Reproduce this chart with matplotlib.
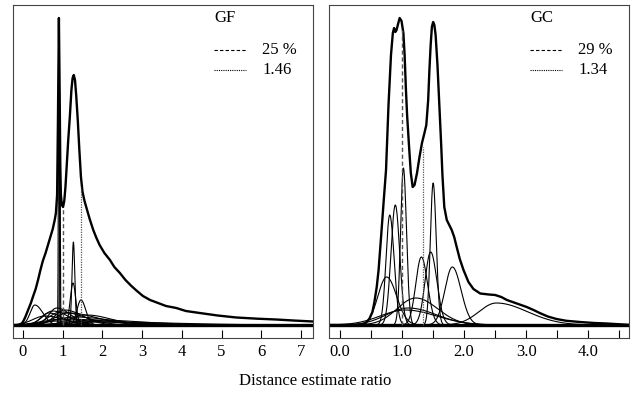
import numpy as np
import matplotlib
matplotlib.use("Agg")
import matplotlib.pyplot as plt

plt.rcParams['font.family'] = ['Liberation Serif', 'DejaVu Serif']
plt.rcParams['font.size'] = 12

# envelope (total) density (x, height)
gf_x = [-0.2, -0.12, -0.05, 0.0, 0.06, 0.13, 0.2, 0.25, 0.32, 0.38, 0.44, 0.5, 0.57,
        0.63, 0.69, 0.75, 0.8, 0.83, 0.86, 0.88, 0.905, 0.925, 0.94, 0.955, 0.98,
        1.01, 1.04, 1.07, 1.1, 1.14, 1.18, 1.22, 1.25, 1.28, 1.31, 1.34, 1.38, 1.42,
        1.46, 1.5, 1.55, 1.6, 1.68, 1.77, 1.85, 1.93, 2.05, 2.19, 2.3, 2.44, 2.58,
        2.73, 2.87, 3.02, 3.2, 3.4, 3.6, 3.86, 4.1, 4.45, 4.9, 5.37, 5.9, 6.37, 6.8, 7.3]
gf_y = [0.0, 0.0, 0.01, 0.03, 0.08, 0.15, 0.22, 0.28, 0.36, 0.45, 0.55, 0.64, 0.72,
        0.8, 0.88, 0.96, 1.05, 1.12, 1.3, 2.0, 3.07, 2.3, 1.6, 1.3, 1.2,
        1.18, 1.24, 1.38, 1.58, 1.85, 2.08, 2.35, 2.47, 2.5, 2.45, 2.3, 2.05, 1.75,
        1.48, 1.33, 1.24, 1.17, 1.06, 0.95, 0.87, 0.8, 0.72, 0.65, 0.58, 0.52, 0.45,
        0.39, 0.34, 0.29, 0.25, 0.22, 0.19, 0.17, 0.14, 0.12, 0.095, 0.075, 0.063,
        0.055, 0.045, 0.035]

gc_x = [-0.2, 0.25, 0.36, 0.41, 0.47, 0.52, 0.55, 0.59, 0.62, 0.66, 0.70, 0.74, 0.78,
        0.82, 0.85, 0.87, 0.89, 0.91, 0.93, 0.96, 0.99, 1.02, 1.04, 1.06, 1.08, 1.11,
        1.14, 1.17, 1.2, 1.24, 1.28, 1.32, 1.36, 1.39, 1.42, 1.44, 1.46, 1.48, 1.5,
        1.52, 1.54, 1.57, 1.6, 1.63, 1.65, 1.68, 1.72, 1.76, 1.8, 1.84, 1.88, 1.93,
        1.99, 2.07, 2.15, 2.26, 2.4, 2.5, 2.6, 2.69, 2.85, 3.01, 3.12, 3.23, 3.35,
        3.49, 3.65, 3.87, 4.1, 4.3, 4.7]
gc_y = [0.0, 0.0, 0.005, 0.02, 0.06, 0.13, 0.22, 0.38, 0.55, 0.88, 1.22, 1.55, 2.2,
        2.7, 2.92, 2.97, 2.93, 2.95, 3.0, 3.07, 3.04, 2.92, 2.7, 2.37, 2.1, 1.8,
        1.52, 1.38, 1.4, 1.52, 1.68, 1.82, 1.92, 2.0, 2.25, 2.55, 2.8, 2.98, 3.03,
        3.0, 2.9, 2.6, 2.2, 1.8, 1.5, 1.18, 1.05, 1.0, 0.95, 0.88, 0.78, 0.66,
        0.55, 0.43, 0.36, 0.315, 0.305, 0.3, 0.28, 0.25, 0.215, 0.18, 0.15, 0.117,
        0.085, 0.06, 0.042, 0.03, 0.02, 0.015, 0.0]

# individual components: centre, left width, right width, peak height
gf_comp = [
    (0.905, 0.012, 0.012, 2.95), (0.93, 0.010, 0.010, 1.93),
    (1.27, 0.035, 0.035, 0.83), (1.26, 0.07, 0.07, 0.42),
    (1.46, 0.10, 0.12, 0.25), (0.30, 0.12, 0.20, 0.20),
    (0.85, 0.20, 0.35, 0.17), (1.05, 0.25, 0.45, 0.15),
    (0.75, 0.25, 0.40, 0.14), (0.95, 0.30, 0.60, 0.13),
    (0.65, 0.20, 0.35, 0.12), (1.15, 0.35, 0.70, 0.12),
    (1.60, 0.40, 0.60, 0.10), (0.55, 0.30, 0.50, 0.09),
    (1.30, 0.50, 0.90, 0.08), (1.00, 0.50, 1.20, 0.06),
    (1.80, 0.60, 1.20, 0.05), (0.90, 0.40, 1.60, 0.04),
    (2.00, 0.80, 1.80, 0.03),
]
gc_comp = [
    (0.80, 0.06, 0.07, 1.10), (0.89, 0.07, 0.07, 1.20),
    (1.02, 0.045, 0.05, 1.57), (0.75, 0.14, 0.16, 0.48),
    (1.31, 0.09, 0.10, 0.68), (1.46, 0.09, 0.10, 0.73),
    (1.50, 0.045, 0.05, 1.42), (1.81, 0.12, 0.14, 0.58),
    (1.22, 0.30, 0.35, 0.27), (1.10, 0.35, 0.45, 0.17),
    (1.05, 0.40, 0.50, 0.15), (2.52, 0.28, 0.50, 0.22),
]

gf_dash, gf_dash_top, gf_dot, gf_dot_top = 1.0, 1.18, 1.47, 1.38
gc_dash, gc_dash_top, gc_dot, gc_dot_top = 1.0, 2.95, 1.33, 1.78

panels = [
    dict(name="GF", x=gf_x, y=gf_y, comp=gf_comp, xlim=(-0.25, 7.3),
         ticks=np.arange(0, 8, 1), labels=[str(i) for i in range(8)],
         dash=(gf_dash, gf_dash_top), dot=(gf_dot, gf_dot_top),
         leg=["25 %", "1.46"], left=13 / 638),
    dict(name="GC", x=gc_x, y=gc_y, comp=gc_comp, xlim=(-0.18, 4.66),
         ticks=np.arange(0, 5, 0.5),
         labels=["0.0", "", "1.0", "", "2.0", "", "3.0", "", "4.0", ""],
         dash=(gc_dash, gc_dash_top), dot=(gc_dot, gc_dot_top),
         leg=["29 %", "1.34"], left=329 / 638),
]

fig = plt.figure(figsize=(6.38, 3.99), dpi=100)

for p in panels:
    ax = fig.add_axes([p["left"], 61 / 399, 300 / 638, 333 / 399])
    xs = np.linspace(p["xlim"][0], p["xlim"][1], 2000)
    for c, sl, sr, h in p["comp"]:
        s = np.where(xs < c, sl, sr)
        ax.plot(xs, h * np.exp(-0.5 * ((xs - c) / s) ** 2), color="black", lw=0.8)
    ax.plot(p["x"], p["y"], color="black", lw=1.7, solid_joinstyle="round")
    ax.axhline(0, color="black", lw=2.4)
    ax.plot([p["dash"][0]] * 2, [0, p["dash"][1]], color="#555555", lw=1.0,
            dashes=(3, 2))
    ax.plot([p["dot"][0]] * 2, [0, p["dot"][1]], color="#555555", lw=0.9,
            dashes=(1, 1))

    ax.set_xlim(*p["xlim"])
    ax.set_ylim(-0.13, 3.2)
    ax.set_yticks([])
    ax.set_xticks(p["ticks"])
    ax.set_xticklabels(p["labels"])
    ax.tick_params(axis="x", direction="in", length=6, width=0.8, pad=4)
    for sp in ax.spines.values():
        sp.set_color("#444444")
        sp.set_linewidth(0.8)

    # legend drawn by hand
    lx = 0.67
    ax.text(lx, 0.961, p["name"], transform=ax.transAxes, va="center", ha="left")
    ax.plot([lx, lx + 0.105], [0.865, 0.865], transform=ax.transAxes,
            color="black", lw=0.8, dashes=(3, 2))
    ax.plot([lx, lx + 0.105], [0.805, 0.805], transform=ax.transAxes,
            color="black", lw=0.8, dashes=(1, 1))
    ax.text(lx + 0.16, 0.865, p["leg"][0], transform=ax.transAxes, va="center")
    ax.text(lx + 0.16, 0.805, p["leg"][1], transform=ax.transAxes, va="center")

fig.text(0.494, 0.045, "Distance estimate ratio", ha="center", va="center")

fig.savefig("out.png", dpi=100)
